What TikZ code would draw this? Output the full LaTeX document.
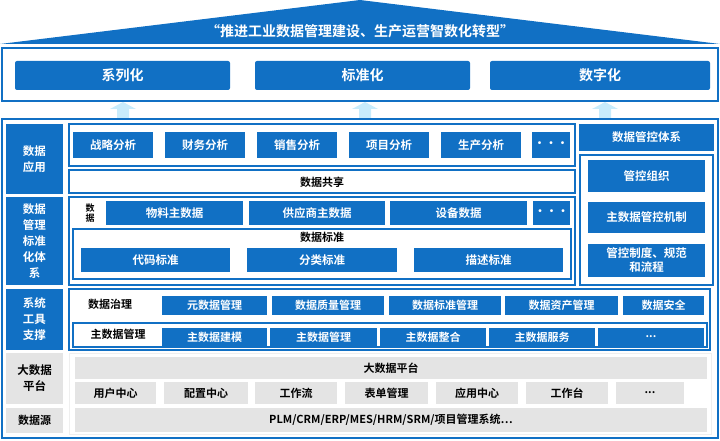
\documentclass[tikz,border=0pt]{standalone}
\usepackage{fontspec}
\setmainfont{Noto Sans CJK SC}
\newfontfamily\cjkb{Noto Sans CJK SC Bold}
\begin{document}
\begin{tikzpicture}[x=1pt,y=-1pt,
  bl/.style={fill=blu,draw=none,text=white,font=\cjkb\fontsize{11.5}{13.5}\selectfont},
  fr/.style={draw=blu,line width=1.8pt},
  gb/.style={fill=gry,draw=none,text=black,font=\cjkb\fontsize{11}{13}\selectfont},
  lab/.style={text=black,font=\cjkb\fontsize{11}{12}\selectfont,inner sep=0pt}]
\definecolor{blu}{HTML}{1170C4}
\definecolor{gry}{HTML}{E4E4E4}
\definecolor{lb}{HTML}{C8ECFC}
\useasboundingbox (0,0) rectangle (720,441);
\newcommand\bx[6]{\node[#1,minimum width=#4-#2,minimum height=#5-#3,inner sep=0pt,align=center] (#6) at ({(#2+#4)/2},{(#3+#5)/2})}
% roof
\fill[blu] (0,44) -- (360,0) -- (720,44) -- cycle;
\node[text=white,font=\cjkb\fontsize{14}{15}\selectfont] (roof) at (360,31) {“推进工业数据管理建设、生产运营智数化转型”};
\draw[fr] (2,48) rectangle (718,101);
\bx{bl,rounded corners=2pt,font=\cjkb\fontsize{14}{15}\selectfont}{15}{61}{230}{90}{g1} {系列化};
\bx{bl,rounded corners=2pt,font=\cjkb\fontsize{14}{15}\selectfont}{255}{61}{470}{90}{g2} {标准化};
\bx{bl,rounded corners=2pt,font=\cjkb\fontsize{14}{15}\selectfont}{490}{61}{710}{90}{g3} {数字化};
\foreach \x in {123,365,605}{\fill[lb] (\x-6,118) -- (\x-6,109) -- (\x-13,109) -- (\x,102) -- (\x+13,109) -- (\x+6,109) -- (\x+6,118) -- cycle;}
\draw[fr] (2,119) rectangle (718,438);
% left labels
\bx{bl,font=\cjkb\fontsize{11.5}{16}\selectfont}{6}{124}{63}{194}{l1} {数据\\应用};
\bx{bl,font=\cjkb\fontsize{11.5}{16}\selectfont}{6}{197}{63}{285}{l2} {数据\\管理\\标准\\化体\\系};
\bx{bl,font=\cjkb\fontsize{11.5}{16}\selectfont}{6}{289}{63}{350}{l3} {系统\\工具\\支撑};
\bx{gb,font=\cjkb\fontsize{11.5}{16}\selectfont}{6}{353}{63}{404}{l4} {大数据\\平台};
\bx{gb}{6}{408}{63}{433}{l5} {数据源};
% data app
\draw[fr] (69,124) rectangle (575,166);
\bx{bl}{73}{132}{153}{158}{a1} {战略分析};
\bx{bl}{165}{132}{245}{158}{a2} {财务分析};
\bx{bl}{257}{132}{337}{158}{a3} {销售分析};
\bx{bl}{349}{132}{429}{158}{a4} {项目分析};
\bx{bl}{441}{132}{521}{158}{a5} {生产分析};
\bx{bl}{532}{132}{570}{158}{a6} {···};
\draw[fr] (69,170) rectangle (575,193);
\node[lab] (share) at (322,182) {数据共享};
% master data
\draw[fr] (69,197) rectangle (575,285);
\node[lab,align=center,font=\cjkb\fontsize{9}{10}\selectfont] (md) at (90,213) {数\\据};
\bx{bl}{106}{201}{243}{225}{m1} {物料主数据};
\bx{bl}{249}{201}{385}{225}{m2} {供应商主数据};
\bx{bl}{390}{201}{527}{225}{m3} {设备数据};
\bx{bl}{533}{201}{570}{225}{m4} {···};
\draw[fr] (73,229) rectangle (571,279);
\node[lab] (std) at (322,237) {数据标准};
\bx{bl}{81}{248}{230}{272}{s1} {代码标准};
\bx{bl}{247}{248}{397}{272}{s2} {分类标准};
\bx{bl}{414}{248}{563}{272}{s3} {描述标准};
% right column
\bx{bl}{579}{124}{714}{151}{r0} {数据管控体系};
\draw[fr] (580,155) rectangle (713,285);
\bx{bl}{588}{160}{705}{192}{r1} {管控组织};
\bx{bl}{588}{202}{705}{233}{r2} {主数据管控机制};
\bx{bl,font=\cjkb\fontsize{11.5}{14}\selectfont}{588}{244}{705}{277}{r3} {管控制度、规范\\和流程};
% system tools
\draw[fr] (69,289) rectangle (710,350);
\node[lab] (gov) at (110,304) {数据治理};
\bx{bl,font=\cjkb\fontsize{11}{12}\selectfont}{162}{296}{267}{315}{t1} {元数据管理};
\bx{bl,font=\cjkb\fontsize{11}{12}\selectfont}{272}{296}{384}{315}{t2} {数据质量管理};
\bx{bl,font=\cjkb\fontsize{11}{12}\selectfont}{389}{296}{501}{315}{t3} {数据标准管理};
\bx{bl,font=\cjkb\fontsize{11}{12}\selectfont}{505}{296}{618}{315}{t4} {数据资产管理};
\bx{bl,font=\cjkb\fontsize{11}{12}\selectfont}{623}{296}{704}{315}{t5} {数据安全};
\draw[fr] (73,323) rectangle (707,347);
\node[lab] (mdm) at (118,334) {主数据管理};
\bx{bl,font=\cjkb\fontsize{11}{12}\selectfont}{162}{328}{267}{346}{u1} {主数据建模};
\bx{bl,font=\cjkb\fontsize{11}{12}\selectfont}{270}{328}{377}{346}{u2} {主数据管理};
\bx{bl,font=\cjkb\fontsize{11}{12}\selectfont}{380}{328}{486}{346}{u3} {主数据整合};
\bx{bl,font=\cjkb\fontsize{11}{12}\selectfont}{489}{328}{595}{346}{u4} {主数据服务};
\bx{bl,font=\cjkb\fontsize{11}{12}\selectfont}{598}{328}{704}{346}{u5} {...};
% big data
\draw[draw=gry!60,line width=1pt] (69,353) rectangle (711,434);
\bx{gb}{75}{357}{707}{379}{p0} {大数据平台};
\bx{gb}{75}{382}{156}{404}{p1} {用户中心};
\bx{gb}{164}{382}{248}{404}{p2} {配置中心};
\bx{gb}{255}{382}{337}{404}{p3} {工作流};
\bx{gb}{345}{382}{428}{404}{p4} {表单管理};
\bx{gb}{436}{382}{518}{404}{p5} {应用中心};
\bx{gb}{526}{382}{608}{404}{p6} {工作台};
\bx{gb}{616}{382}{684}{404}{p7} {...};
\bx{gb}{75}{408}{707}{432}{ds} {PLM/CRM/ERP/MES/HRM/SRM/项目管理系统…};
\end{tikzpicture}
\end{document}
